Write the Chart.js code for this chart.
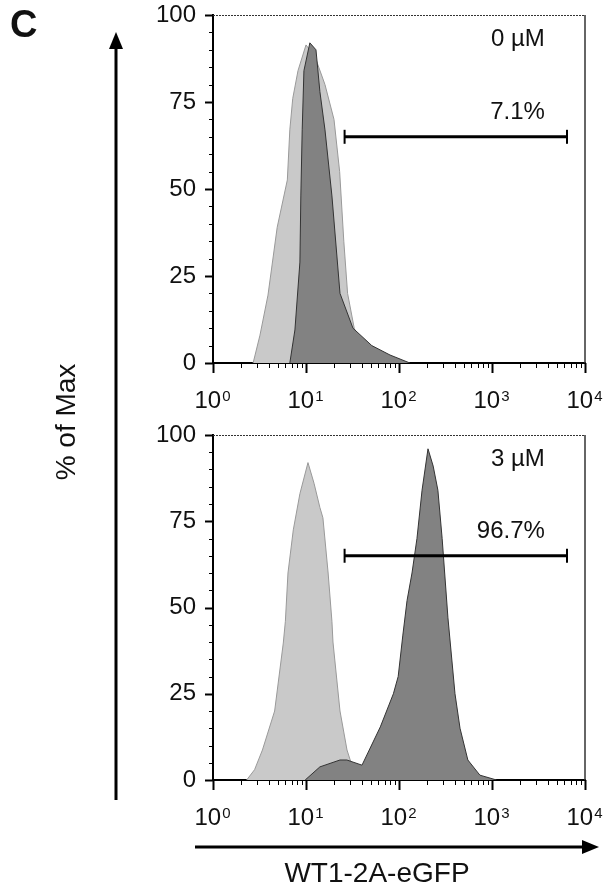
<!DOCTYPE html>
<html>
<head>
<meta charset="utf-8">
<script src="https://cdn.jsdelivr.net/npm/chart.js@4.4.1/dist/chart.umd.min.js"></script>
<style>
body{margin:0;background:#fff;width:604px;height:891px;position:relative;overflow:hidden;font-family:"Liberation Sans",Arial,sans-serif;color:#111}
.box{position:absolute;left:0;width:604px;height:420px}
#p0{top:0}
#p1{top:420px}
.lbl{position:absolute;white-space:nowrap;line-height:1}
#panel{left:10px;top:5px;font-size:38px;font-weight:bold}
#ylab{left:66px;top:422px;font-size:28px;transform:translate(-50%,-50%) rotate(-90deg)}
#xlab{left:377px;top:859px;font-size:28px;transform:translateX(-50%)}
svg{position:absolute;left:0;top:0}
</style>
</head>
<body>
<div class="box" id="p0"><canvas id="c0" width="604" height="420"></canvas></div>
<div class="box" id="p1"><canvas id="c1" width="604" height="420"></canvas></div>
<svg width="604" height="891">
  <line x1="116" y1="800" x2="116" y2="46" stroke="#000" stroke-width="3"/>
  <polygon points="116,32 109,49 123,49" fill="#000"/>
  <line x1="195" y1="847" x2="584" y2="847" stroke="#000" stroke-width="3"/>
  <polygon points="599,847 582,840 582,854" fill="#000"/>
</svg>
<div class="lbl" id="panel">C</div>
<div class="lbl" id="ylab">% of Max</div>
<div class="lbl" id="xlab">WT1-2A-eGFP</div>
<script>
// axis ticks
const decades = [1, 10, 100, 1000, 10000];
const yTicks = [0, 25, 50, 75, 100];

// gate marker and labels
const gateRange = [26, 6400];
const gateLevel = 65;
const concLabels = ['0 \u00B5M', '3 \u00B5M'];
const gateLabels = ['7.1%', '96.7%'];

// 0 uM: control (light) and sample (dark), fluorescence vs % of max
const ctrl0X = [2.7, 3.2, 3.9, 4.9, 6.3, 6.7, 7.2, 8.2, 10.0, 12.5, 16.0, 20.0, 23.0, 25.5, 28.0, 33.0, 42.0, 60.0, 90.0];
const ctrl0Y = [0, 8, 19.5, 39, 52.6, 67, 76, 84, 91.4, 88, 80, 70, 55, 35, 20, 10, 4, 1, 0];
const samp0X = [6.7, 7.6, 8.6, 8.8, 9.1, 9.5, 11.0, 12.8, 14.1, 16.0, 19.0, 23.2, 32.0, 51, 80, 131];
const samp0Y = [0, 9.5, 29, 48, 67, 84, 92, 90, 78, 67, 48, 20, 10, 5, 2.3, 0];

// 3 uM
const ctrl3X = [2.3, 2.8, 3.4, 4.6, 5.7, 6.0, 6.4, 7.3, 8.6, 10.5, 12.2, 14.1, 15.2, 17.3, 19.0, 19.5, 23.2, 27.6, 33.6, 40];
const ctrl3Y = [0, 3, 8.7, 20, 39.7, 46, 60, 72.5, 83, 92, 86, 79, 76, 60, 46, 40, 20, 8.7, 1.5, 0];
const samp3X = [9.8, 14.1, 23.2, 27.5, 40, 63, 87, 98, 110, 122, 138, 156, 177, 205, 233, 262, 291, 336, 400, 453, 550, 741, 1120];
const samp3Y = [0, 3.8, 5.8, 5.8, 4.3, 15.4, 25, 30, 42, 52, 60, 70, 84, 96, 91, 84, 70, 47, 25, 15, 5.8, 1.4, 0];

const FONT = '"Liberation Sans", Arial, sans-serif';
Chart.defaults.font.family = FONT;
Chart.defaults.color = '#111';

const pts = (xs, ys) => xs.map((x, i) => ({x: x, y: ys[i]}));

const framePlugin = {
  id: 'frame',
  afterDraw(chart, args, opts) {
    const {ctx, chartArea: a, scales: {x, y}} = chart;
    ctx.save();
    // top and right frame
    ctx.strokeStyle = '#333';
    ctx.lineWidth = 1;
    ctx.setLineDash([2, 1]);
    ctx.beginPath();
    ctx.moveTo(a.left, a.top + 0.5);
    ctx.lineTo(a.right, a.top + 0.5);
    ctx.stroke();
    ctx.setLineDash([]);
    ctx.lineWidth = 1.5;
    ctx.beginPath();
    ctx.moveTo(a.right, a.top);
    ctx.lineTo(a.right, a.bottom);
    ctx.stroke();
    // x ticks, log minor
    ctx.strokeStyle = '#000';
    decades.forEach((d, i) => {
      const ks = i < decades.length - 1 ? [1, 2, 3, 4, 5, 6, 7, 8, 9] : [1];
      ks.forEach(k => {
        const px = Math.round(x.getPixelForValue(d * k)) + 0.5;
        ctx.lineWidth = k === 1 ? 2 : 1;
        ctx.beginPath();
        ctx.moveTo(px, a.bottom);
        ctx.lineTo(px, a.bottom + (k === 1 ? 10 : 5));
        ctx.stroke();
      });
    });
    // y ticks, minor every 5
    for (let v = 0; v <= 100; v += 5) {
      const py = Math.round(y.getPixelForValue(v)) + 0.5;
      const major = v % 25 === 0;
      ctx.lineWidth = major ? 2 : 1;
      ctx.beginPath();
      ctx.moveTo(a.left, py);
      ctx.lineTo(a.left - (major ? 8 : 4), py);
      ctx.stroke();
    }
    // x tick labels 10^n with raised exponent
    ctx.fillStyle = '#111';
    ctx.textBaseline = 'alphabetic';
    ctx.textAlign = 'left';
    decades.forEach(d => {
      const e = String(Math.round(Math.log10(d)));
      ctx.font = '24px ' + FONT;
      const wb = ctx.measureText('10').width;
      ctx.font = '15px ' + FONT;
      const we = ctx.measureText(e).width;
      const x0 = x.getPixelForValue(d) - (wb + we) / 2 - 1;
      ctx.font = '24px ' + FONT;
      ctx.fillText('10', x0, a.bottom + 45);
      ctx.font = '15px ' + FONT;
      ctx.fillText(e, x0 + wb + 1, a.bottom + 38);
    });
    // labels
    ctx.font = '24px ' + FONT;
    ctx.textAlign = 'right';
    ctx.textBaseline = 'middle';
    ctx.fillText(opts.conc, x.getPixelForValue(3700), y.getPixelForValue(93));
    ctx.fillText(opts.pct, x.getPixelForValue(3700), y.getPixelForValue(72));
    ctx.restore();
  }
};

function makeChart(id, ctrlX, ctrlY, sampX, sampY, conc, pct, axisH) {
  return new Chart(document.getElementById(id), {
    type: 'line',
    data: {
      datasets: [
        {label: 'gate', data: gateRange.map(v => ({x: v, y: gateLevel})), borderColor: '#000', borderWidth: 3,
         pointStyle: 'line', rotation: 90, pointRadius: 7, pointBorderWidth: 2, pointBorderColor: '#000', fill: false, order: 0},
        {label: 'sample', data: pts(sampX, sampY), borderColor: '#333', borderWidth: 1, backgroundColor: '#828282',
         fill: 'origin', pointRadius: 0, tension: 0, order: 1},
        {label: 'control', data: pts(ctrlX, ctrlY), borderColor: '#999', borderWidth: 1, backgroundColor: '#c9c9c9',
         fill: 'origin', pointRadius: 0, tension: 0, order: 2}
      ]
    },
    options: {
      responsive: false,
      animation: false,
      layout: {padding: {left: 140, top: 15, right: 19, bottom: 0}},
      plugins: {legend: {display: false}, tooltip: {enabled: false}, frame: {conc: conc, pct: pct}},
      scales: {
        x: {
          type: 'logarithmic', min: 1, max: 10000,
          grid: {display: false, drawTicks: false},
          border: {display: true, color: '#000', width: 2},
          afterBuildTicks: s => { s.ticks = decades.map(v => ({value: v})); },
          afterFit: s => { s.height = axisH; s.paddingLeft = 0; s.paddingRight = 0; },
          ticks: {display: false}
        },
        y: {
          min: 0, max: 100,
          grid: {display: false, drawTicks: false},
          border: {display: true, color: '#000', width: 2},
          afterBuildTicks: s => { s.ticks = yTicks.map(v => ({value: v})); },
          afterFit: s => { s.width = 73; s.paddingTop = 0; s.paddingBottom = 0; },
          ticks: {autoSkip: false, padding: 17, font: {size: 24}}
        }
      }
    },
    plugins: [framePlugin]
  });
}

makeChart('c0', ctrl0X, ctrl0Y, samp0X, samp0Y, concLabels[0], gateLabels[0], 57);
makeChart('c1', ctrl3X, ctrl3Y, samp3X, samp3Y, concLabels[1], gateLabels[1], 60);
</script>
</body>
</html>
